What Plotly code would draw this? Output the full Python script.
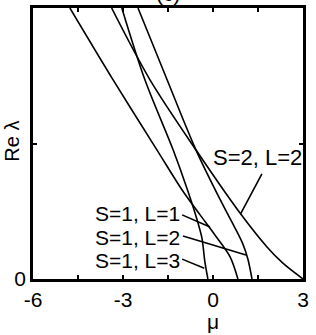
import plotly.graph_objects as go

# ---- data ----
mu_s2l2 = [-3.38, -2.10, -0.57, 0.90, 1.80, 2.33, 3.00]
re_s2l2 = [6.00, 4.41, 2.86, 1.46, 0.71, 0.35, 0.00]

mu_s1l1 = [-4.77, -3.33, -1.87, -1.03, -0.43, 0.07, 0.57, 0.83]
re_s1l1 = [6.00, 4.41, 2.86, 1.97, 1.42, 0.97, 0.49, 0.00]

mu_s1l2 = [-2.50, -1.53, -0.57, 0.33, 0.68, 0.98, 1.16, 1.30]
re_s1l2 = [6.00, 4.41, 2.86, 1.64, 1.20, 0.80, 0.45, 0.00]

mu_s1l3 = [-3.04, -2.27, -1.33, -0.87, -0.53, -0.37, -0.27, -0.17]
re_s1l3 = [6.00, 4.41, 2.86, 2.01, 1.31, 0.91, 0.38, 0.00]

x_tickvals = [-6, -4.5, -3, -1.5, 0, 1.5, 3]
x_ticktext = ["-6", "", "-3", "", "0", "", "3"]
y_tickvals = [0, 3, 6]
y_ticktext = ["0", "", "6"]

FONT = "Liberation Sans, Arial, sans-serif"
FS = 21

fig = go.Figure()
for mx, ry in [(mu_s2l2, re_s2l2), (mu_s1l1, re_s1l1), (mu_s1l2, re_s1l2), (mu_s1l3, re_s1l3)]:
    fig.add_trace(go.Scatter(x=mx, y=ry, mode="lines",
                             line=dict(color="black", width=1.6, shape="spline", smoothing=0.9),
                             showlegend=False, hoverinfo="skip"))

# labels with leader lines
labels = [
    ("S=1, L=1", -1.08, 1.44, -1.03, 1.42, -0.10, 1.15),
    ("S=1, L=2", -1.08, 0.93, -1.00, 0.95, 1.10, 0.53),
    ("S=1, L=3", -1.08, 0.42, -1.03, 0.44, -0.29, 0.24),
]
for txt, tx, ty, x0, y0, x1, y1 in labels:
    fig.add_annotation(x=tx, y=ty, xref="x", yref="y", text=txt, showarrow=False,
                       xanchor="right", yanchor="middle", borderpad=0,
                       font=dict(family=FONT, size=FS, color="black"))
    fig.add_shape(type="line", x0=x0, y0=y0, x1=x1, y1=y1, xref="x", yref="y",
                  line=dict(color="black", width=1.6))

fig.add_annotation(x=-0.02, y=2.69, xref="x", yref="y", text="S=2, L=2", showarrow=False,
                   xanchor="left", yanchor="middle", borderpad=0,
                   font=dict(family=FONT, size=FS + 1, color="black"))
fig.add_shape(type="line", x0=1.63, y0=2.33, x1=0.92, y1=1.44, xref="x", yref="y",
              line=dict(color="black", width=1.6))

# axis titles
fig.add_annotation(x=0.0, y=-0.11, xref="x", yref="paper", text="μ", showarrow=False,
                   xanchor="center", yanchor="top", borderpad=0,
                   font=dict(family=FONT, size=FS, color="black"))
fig.add_annotation(x=-0.078, y=0.51, xref="paper", yref="paper", text="Re λ", showarrow=False,
                   textangle=-90, xanchor="center", yanchor="middle",
                   font=dict(family=FONT, size=20, color="black"))
# panel title, cut by the top edge as in the reference
fig.add_annotation(x=0.5, y=1.0, xref="paper", yref="paper", text="(c)", showarrow=False,
                   xanchor="center", yanchor="bottom", yshift=1,
                   font=dict(family=FONT, size=FS, color="black"))

fig.update_xaxes(range=[-6, 3], tickvals=x_tickvals, ticktext=x_ticktext,
                 ticks="inside", ticklen=4, tickwidth=1.5, tickcolor="black",
                 showline=True, linecolor="black", linewidth=2.5, mirror="ticks",
                 showgrid=False, zeroline=False, automargin=False,
                 tickfont=dict(family=FONT, size=FS, color="black"))
fig.update_yaxes(range=[0, 6], tickvals=y_tickvals, ticktext=y_ticktext,
                 ticks="inside", ticklen=4, tickwidth=1.5, tickcolor="black",
                 showline=True, linecolor="black", linewidth=2.5, mirror="ticks",
                 showgrid=False, zeroline=False, automargin=False,
                 tickfont=dict(family=FONT, size=FS, color="black"))

fig.update_layout(width=316, height=335, plot_bgcolor="white", paper_bgcolor="white",
                  margin=dict(l=33, r=13, t=8, b=56))
fig.write_html("out.html", config={"displayModeBar": False},
               post_script="document.body.style.margin='0px';")
